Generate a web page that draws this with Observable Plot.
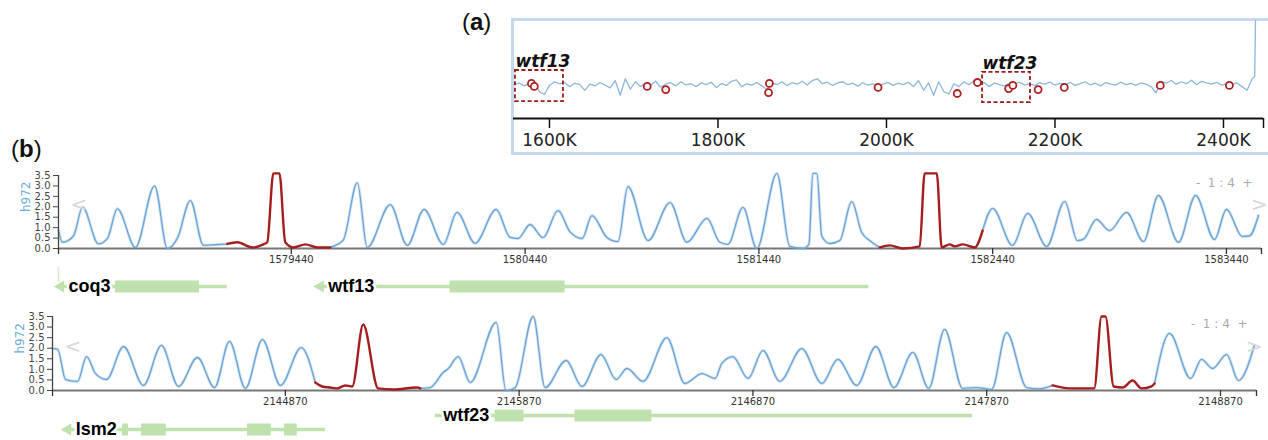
<!DOCTYPE html>
<html><head><meta charset="utf-8">
<script src="https://cdn.jsdelivr.net/npm/d3@7"></script>
<script src="https://cdn.jsdelivr.net/npm/@observablehq/plot@0.6"></script>
<style>
html,body{margin:0;padding:0;background:#fff;overflow:hidden;}
#root{position:relative;width:1268px;height:440px;overflow:hidden;font-family:"DejaVu Sans",sans-serif;background:#fff;}
.panel-label{position:absolute;font-family:"Liberation Sans",Arial,sans-serif;font-size:24px;color:#111;line-height:1;}
#boxA{position:absolute;left:511px;top:18px;width:800px;height:131px;border:3px solid #c6daee;}
</style></head><body><div id="root">
<div id="boxA"></div>
<div class="panel-label" style="left:462px;top:10px">(<b>a</b>)</div>
<div class="panel-label" style="left:11px;top:137px">(<b>b</b>)</div>
</div>
<script>
// ---------- Panel (a): genome-wide overview ----------
const overviewStart = 1558000, overviewStep = 6000;
const overviewValues = [1.38,1.45,1.33,1.42,1.48,1.10,0.98,1.35,1.50,1.41,
 1.47,1.30,1.44,1.38,1.15,1.40,1.33,1.47,1.36,1.25,
 1.55,0.95,1.62,1.20,1.50,1.30,1.44,1.36,1.52,1.28,
 1.40,1.46,1.33,1.50,1.37,1.42,1.30,1.45,1.38,1.48,
 1.26,1.43,1.35,1.52,1.58,1.30,1.42,1.36,1.47,1.33,
 1.20,1.45,1.38,1.50,1.34,1.46,1.40,1.52,1.37,1.55,
 1.62,1.42,1.48,1.35,1.45,1.50,1.38,1.44,1.32,1.46,
 1.36,1.42,1.30,1.40,1.47,1.35,1.44,1.38,1.48,1.30,
 1.55,1.15,1.45,0.95,1.50,1.10,1.00,1.42,1.30,1.50,
 1.38,1.55,1.35,1.47,1.30,1.45,1.38,1.33,1.45,1.40,
 1.48,1.36,1.42,1.34,1.46,1.40,1.49,1.36,1.43,1.38,
 1.47,1.35,1.42,1.50,1.37,1.44,1.33,1.46,1.40,1.36,
 1.48,1.38,1.43,1.35,1.45,1.40,1.30,1.05,1.52,1.44,
 1.55,1.40,1.50,1.42,1.56,1.38,1.52,1.45,1.40,1.48,
 1.36,1.42,1.38,1.45,1.30,1.15,1.62];
const overviewTailPos = [2437000, 2438000];
const overviewTailVal = [1.70, 4.0];
const overviewDomain = [1557300, 2447500];
const overviewTicks = [1600000, 1800000, 2000000, 2200000, 2400000];

const hotspotPos = [1578600,1582000,1716000,1738000,1861000,1860000,1990000,2084000,2108000,2145000,2150000,2180000,2211000,2325000,2407000];
const hotspotVal = [1.43,1.31,1.31,1.18,1.43,1.06,1.27,1.02,1.47,1.22,1.35,1.18,1.27,1.35,1.35];

const boxGene  = ["wtf13", "wtf23"];
const boxStart = [1559600, 2114000];
const boxEnd   = [1616600, 2170900];
const boxLow   = [0.69, 0.65];
const boxHigh  = [1.96, 1.88];

// ---------- Panel (b): tracks ----------
const topPos = [1578444,1578461,1578508,1578547,1578615,1578654,1578696,1578773,1578855,1578910,
 1578953,1579008,1579064,1579115,1579166,1579209,1579273,1579320,1579337,1579363,
 1579389,1579414,1579449,1579500,1579551,1579607,1579619,1579662,1579722,1579765,
 1579863,1579936,1580008,1580090,1580149,1580226,1580316,1580376,1580410,1580461,
 1580517,1580581,1580632,1580684,1580726,1580790,1580837,1580880,1580966,1581060,
 1581132,1581218,1581273,1581307,1581372,1581431,1581517,1581572,1581628,1581654,
 1581671,1581688,1581709,1581743,1581786,1581837,1581880,1581914,1581957,1582000,
 1582055,1582128,1582149,1582201,1582222,1582256,1582278,1582312,1582363,1582397,
 1582440,1582525,1582590,1582671,1582748,1582803,1582829,1582884,1582940,1583013,
 1583085,1583149,1583235,1583308,1583389,1583440,1583508,1583538,1583577];
const topVal = [0.86,0.30,0.60,1.98,0.22,0.50,1.90,0.05,3.00,0,
 0.50,2.30,0.15,0.18,0.22,0.30,0.05,0.20,0.30,3.60,
 3.60,0.30,0.05,0.20,0.05,0.05,0.10,0.40,3.15,0.05,
 2.10,0.15,1.87,0.20,1.73,0.25,1.87,0.53,0.48,1.15,
 0.52,1.82,0.80,0.48,1.58,0.53,0.33,2.97,0.38,2.20,
 0.30,1.44,0.30,0.20,1.97,0,3.60,0.10,0,0.20,
 3.60,3.60,0.60,0.24,0.38,2.25,0.77,0.38,0.05,0.15,
 0,0.10,3.60,3.60,0.05,0.20,0.10,0.20,0.05,0.86,
 1.92,0.15,1.68,0.10,2.25,0.38,0.45,1.39,0.86,1.73,
 0.33,2.54,0.30,2.54,0.43,1.87,0.58,0.60,1.58];
const topRed = [[1579166, 1579607], [1581957, 1582397]];
const topDomain = [1578444, 1583590];
const topTicks = [1579440, 1580440, 1581440, 1582440, 1583440];

const bottomPos = [2143879,2143896,2143930,2143981,2144020,2144058,2144105,2144178,2144263,2144340,
 2144413,2144494,2144567,2144631,2144699,2144772,2144849,2144938,2144998,2145028,
 2145062,2145092,2145126,2145156,2145203,2145267,2145332,2145434,2145447,2145490,
 2145545,2145567,2145609,2145661,2145772,2145814,2145853,2145930,2145981,2146071,
 2146139,2146220,2146285,2146331,2146400,2146502,2146579,2146652,2146708,2146737,
 2146784,2146849,2146913,2146985,2147079,2147165,2147233,2147314,2147396,2147473,
 2147554,2147622,2147690,2147767,2147827,2147891,2147955,2148041,2148096,2148152,
 2148225,2148330,2148361,2148378,2148413,2148451,2148494,2148532,2148575,2148588,
 2148652,2148742,2148789,2148836,2148896,2148947,2149015];
const bottomVal = [1.98,1.95,0.52,0.43,1.60,0.80,0.52,2.08,0.24,2.13,
 0.19,1.56,0.14,2.32,0.10,2.41,0.24,2.03,0.38,0.19,
 0.14,0.10,0.24,0.19,3.12,0.10,0.05,0.14,0.10,0.14,
 0.85,1.04,1.60,0.38,3.22,0,0.14,3.50,0.14,1.42,
 0.19,1.70,0.52,1.04,0.43,2.50,0.33,0.80,0.57,1.28,
 1.60,0.57,1.89,0.43,1.98,0.33,1.47,0.24,2.08,0.14,
 1.80,0.10,2.89,0.10,0.14,0.05,2.74,0.14,0.08,0.24,
 0.10,0.10,3.50,3.50,0.19,0.14,0.47,0.10,0.20,0.33,
 2.70,0.57,1.47,1.04,1.70,0.47,2.13];
const bottomRed = [[2144998, 2145447], [2148152, 2148588]];
const bottomDomain = [2143874, 2149024];
const bottomTicks = [2144870, 2145870, 2146870, 2147870, 2148870];

const yTicks = [0, 0.5, 1, 1.5, 2, 2.5, 3, 3.5];

// genes
const topGeneName   = ["coq3", "wtf13"];
const topGeneStart  = [1578453, 1579564];
const topGeneEnd    = [1579166, 1581910];
const topGeneStrand = ["-", "-"];
const topGeneRow    = ["r1", "r1"];
const topExonStart  = [1578688, 1580119];
const topExonEnd    = [1579047, 1580611];
const topExonRow    = ["r1", "r1"];

const bottomGeneName   = ["lsm2", "wtf23"];
const bottomGeneStart  = [2143939, 2145511];
const bottomGeneEnd    = [2145041, 2147810];
const bottomGeneStrand = ["-", "+"];
const bottomGeneRow    = ["lower", "upper"];
const bottomExonStart  = [2144173, 2144255, 2144708, 2144866, 2145767, 2146109];
const bottomExonEnd    = [2144199, 2144361, 2144810, 2144921, 2145891, 2146438];
const bottomExonRow    = ["lower", "lower", "lower", "lower", "upper", "upper"];

// ---------- drawing ----------
const root = document.getElementById("root");
function place(el, left, top) {
  el.style.position = "absolute";
  el.style.left = left + "px";
  el.style.top = top + "px";
  root.appendChild(el);
}
const BLUE = "#6aa3d6", RED = "#a51d1d", GREEN = "#bfe1ae";

// Panel (a)
const ovData = overviewValues.map((v, i) => ({pos: overviewStart + i * overviewStep, v}))
  .concat(overviewTailPos.map((p, i) => ({pos: p, v: overviewTailVal[i]})));
const hotspots = hotspotPos.map((p, i) => ({pos: p, v: hotspotVal[i]}));
const boxes = boxGene.map((g, i) => ({gene: g, start: boxStart[i], end: boxEnd[i], low: boxLow[i], high: boxHigh[i]}));

const plotA = Plot.plot({
  width: 757, height: 135,
  marginLeft: 2, marginRight: 5, marginTop: 1, marginBottom: 36,
  x: {domain: overviewDomain},
  y: {domain: [0, 4], axis: null},
  style: {fontFamily: "DejaVu Sans", background: "transparent", overflow: "visible"},
  marks: [
    Plot.line(ovData, {x: "pos", y: "v", stroke: "#8db7dc", strokeWidth: 1.3}),
    Plot.rect(boxes, {x1: "start", x2: "end", y1: "low", y2: "high", fill: "none", stroke: "#9e1b1b", strokeWidth: 1.8, strokeDasharray: "4,2.5"}),
    Plot.text(boxes, {x: "start", y: "high", text: "gene", textAnchor: "start", lineAnchor: "bottom", dy: -3, fontSize: 17, fontWeight: "bold", fontStyle: "italic", fill: "#111"}),
    Plot.dot(hotspots, {x: "pos", y: "v", r: 3.5, stroke: "#b02020", strokeWidth: 1.8, fill: "white"}),
    Plot.ruleY([0], {stroke: "#111", strokeWidth: 1.8}),
    Plot.axisX({ticks: [...overviewTicks, overviewDomain[1]], tickFormat: d => overviewTicks.includes(d) ? (d / 1000) + "K" : "", tickSize: 10, tickPadding: 5, fontSize: 17, color: "#222", stroke: "#111", strokeWidth: 1.5, label: null})
  ]
});
place(plotA, 511, 19);

function buildSegments(pos, val, redRanges) {
  const pts = pos.map((p, i) => ({pos: p, v: val[i], red: redRanges.some(([a, b]) => p >= a && p <= b)}));
  const segs = [];
  let cur = null;
  for (let i = 1; i < pts.length; i++) {
    const c = pts[i - 1].red && pts[i].red ? "red" : "blue";
    if (!cur || cur.color !== c) { cur = {color: c, id: segs.length, pts: [pts[i - 1]]}; segs.push(cur); }
    cur.pts.push(pts[i]);
  }
  return segs.flatMap(s => s.pts.map(p => ({pos: p.pos, v: p.v, seg: s.id, color: s.color})));
}

function signalPlot({pos, val, red, domain, ticks, marginLeft, marginRight, marginTop, marginBottom, height, labelDx}) {
  const rows = buildSegments(pos, val, red);
  const blue = rows.filter(d => d.color === "blue");
  const reds = rows.filter(d => d.color === "red");
  return Plot.plot({
    width: 1268, height, marginLeft, marginRight, marginTop, marginBottom,
    x: {domain},
    y: {domain: [0, 3.5]},
    style: {fontFamily: "DejaVu Sans", background: "transparent", overflow: "visible"},
    marks: [
      Plot.ruleY([0], {stroke: "#777", strokeWidth: 2}),
      Plot.line(blue, {x: "pos", y: "v", z: "seg", curve: "monotone-x", stroke: BLUE, strokeWidth: 3, strokeOpacity: 0.3}),
      Plot.line(blue, {x: "pos", y: "v", z: "seg", curve: "monotone-x", stroke: BLUE, strokeWidth: 1.3}),
      Plot.line(reds, {x: "pos", y: "v", z: "seg", curve: "monotone-x", stroke: RED, strokeWidth: 2.4}),
      Plot.ruleX([domain[0]], {y1: 0, y2: 3.5, stroke: "#444", strokeWidth: 1.3}),
      Plot.axisY({ticks: yTicks, tickFormat: d => d.toFixed(1), tickSize: 5, tickPadding: 3, fontSize: 10, color: "#444", label: null}),
      Plot.axisX({ticks: [domain[0], ...ticks, domain[1]], tickFormat: d => ticks.includes(d) ? String(d) : "", tickSize: 6, tickPadding: 1, fontSize: 10, color: "#333", strokeWidth: 1.3, label: null}),
      Plot.text(["h972"], {frameAnchor: "left", rotate: -90, dx: labelDx, fill: "#6baed6", fontSize: 12}),
      Plot.text(["<"], {frameAnchor: "left", dx: 12, dy: -7, fill: "#d8d8d8", fontSize: 20}),
      Plot.text([">"], {frameAnchor: "right", dx: 6, dy: -7, fill: "#d8d8d8", fontSize: 20}),
      Plot.text(["-  1 : 4  +"], {frameAnchor: "top-right", textAnchor: "end", dx: -9, dy: 3, fill: "#aaa", fontSize: 12})
    ]
  });
}

const plotTop = signalPlot({pos: topPos, val: topVal, red: topRed, domain: topDomain, ticks: topTicks,
  marginLeft: 58, marginRight: 7, marginTop: 10, marginBottom: 22, height: 105, labelDx: -32});
place(plotTop, 0, 165);

const plotBottom = signalPlot({pos: bottomPos, val: bottomVal, red: bottomRed, domain: bottomDomain, ticks: bottomTicks,
  marginLeft: 52, marginRight: 12, marginTop: 11, marginBottom: 20, height: 105, labelDx: -32});
place(plotBottom, 0, 305);

function genePlot({names, starts, ends, strands, grows, exStarts, exEnds, exRows, domain, marginLeft, marginRight, height, rowDomain, rowRange, fontSize, startTick}) {
  const genes = names.map((n, i) => ({name: n, start: starts[i], end: ends[i], strand: strands[i], row: grows[i]}));
  const exons = exStarts.map((s, i) => ({start: s, end: exEnds[i], row: exRows[i]}));
  const marks = [
    Plot.ruleY(genes, {x1: "start", x2: "end", y: "row", stroke: GREEN, strokeWidth: 3.5}),
    Plot.dot(genes.filter(g => g.strand === "-"), {x: "start", y: "row", symbol: "triangle", rotate: -90, r: 4.5, fill: GREEN}),
    Plot.text(genes, {x: "start", y: "row", text: "name", textAnchor: "start", dx: 8, fontSize, fontWeight: "bold", fontFamily: "Liberation Sans", fill: "#000", stroke: "white", strokeWidth: 5}),
    Plot.ruleY(exons, {x1: "start", x2: "end", y: "row", stroke: GREEN, strokeWidth: 12})
  ];
  if (startTick) marks.unshift(Plot.ruleX([domain[0]], {stroke: "#d6ecca", strokeWidth: 1.5, insetTop: 5, insetBottom: 18}));
  return Plot.plot({
    width: 1268, height, marginLeft, marginRight, marginTop: 0, marginBottom: 0,
    x: {domain, axis: null},
    y: {type: "point", domain: rowDomain, range: rowRange, padding: 0, axis: null},
    style: {background: "transparent", overflow: "visible"},
    marks
  });
}

const genesTop = genePlot({names: topGeneName, starts: topGeneStart, ends: topGeneEnd, strands: topGeneStrand, grows: topGeneRow,
  exStarts: topExonStart, exEnds: topExonEnd, exRows: topExonRow, domain: topDomain,
  marginLeft: 58, marginRight: 7, height: 38, rowDomain: ["r1"], rowRange: [24, 24], fontSize: 18, startTick: true});
place(genesTop, 0, 262);

const genesBottom = genePlot({names: bottomGeneName, starts: bottomGeneStart, ends: bottomGeneEnd, strands: bottomGeneStrand, grows: bottomGeneRow,
  exStarts: bottomExonStart, exEnds: bottomExonEnd, exRows: bottomExonRow, domain: bottomDomain,
  marginLeft: 52, marginRight: 12, height: 40, rowDomain: ["upper", "lower"], rowRange: [14.5, 28.5], fontSize: 18, startTick: false});
place(genesBottom, 0, 400);
</script>
</body></html>
